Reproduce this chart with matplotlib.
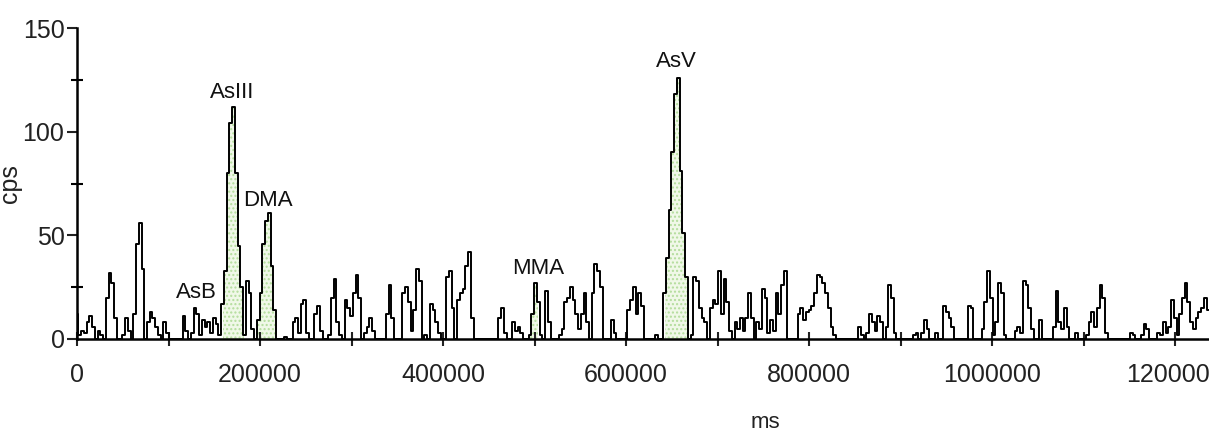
import numpy as np
import matplotlib
matplotlib.use("Agg")
import matplotlib.pyplot as plt
from matplotlib.ticker import MultipleLocator, FixedLocator, FixedFormatter

# ---------------- data ----------------
sample_interval_ms = 3000
cps = [
    12, 2, 4, 3, 8, 11, 6, 0, 4, 2,
    0, 20, 32, 27, 10, 0, 0, 2, 10, 4,
    0, 12, 46, 56, 34, 0, 8, 13, 10, 6,
    2, 0, 8, 3, 0, 0, 0, 0, 0, 11,
    4, 0, 3, 15, 12, 2, 9, 6, 8, 3,
    10, 7, 2, 17, 33, 80, 104, 112, 80, 45,
    25, 2, 28, 22, 5, 0, 9, 22, 46, 57,
    61, 35, 14, 0, 0, 0, 1, 0, 0, 8,
    10, 3, 17, 19, 3, 0, 0, 12, 16, 4,
    0, 0, 2, 20, 29, 8, 2, 0, 19, 15,
    11, 22, 31, 20, 0, 3, 6, 10, 4, 0,
    0, 0, 0, 12, 26, 10, 0, 0, 0, 22,
    25, 18, 4, 14, 34, 28, 0, 2, 0, 17,
    14, 8, 3, 0, 0, 30, 33, 15, 0, 19,
    22, 24, 35, 42, 10, 0, 0, 0, 0, 0,
    0, 0, 0, 0, 10, 15, 3, 0, 0, 8,
    4, 6, 3, 0, 0, 2, 12, 27, 18, 2,
    0, 23, 8, 0, 0, 0, 2, 5, 18, 20,
    25, 19, 12, 5, 12, 22, 8, 0, 22, 36,
    33, 25, 0, 0, 0, 9, 3, 0, 0, 0,
    0, 14, 19, 25, 12, 22, 16, 0, 0, 0,
    0, 2, 0, 0, 22, 39, 62, 90, 118, 126,
    81, 51, 30, 0, 2, 30, 28, 15, 10, 8,
    0, 15, 19, 17, 33, 12, 29, 18, 4, 0,
    8, 5, 10, 4, 10, 22, 10, 0, 8, 5,
    24, 20, 3, 9, 4, 22, 12, 26, 33, 0,
    0, 0, 0, 12, 15, 9, 13, 14, 16, 22,
    31, 30, 27, 22, 15, 6, 2, 0, 0, 0,
    0, 0, 0, 0, 0, 6, 2, 0, 3, 12,
    8, 4, 11, 8, 0, 6, 26, 20, 3, 0,
    0, 0, 0, 0, 0, 2, 3, 0, 3, 9,
    5, 0, 0, 3, 0, 0, 16, 13, 10, 6,
    0, 0, 0, 0, 0, 16, 15, 0, 0, 0,
    5, 18, 33, 20, 2, 8, 27, 22, 2, 0,
    0, 0, 4, 6, 3, 28, 26, 15, 5, 0,
    0, 9, 0, 0, 0, 0, 6, 23, 8, 5,
    15, 6, 0, 0, 3, 0, 0, 0, 2, 8,
    13, 6, 15, 26, 20, 3, 0, 0, 0, 0,
    0, 0, 0, 0, 3, 2, 0, 0, 2, 7,
    5, 0, 0, 0, 3, 2, 8, 3, 6, 19,
    10, 2, 12, 20, 27, 18, 8, 5, 10, 13, 15, 20, 14,
]
peak_names = ["AsB", "AsIII", "DMA", "MMA", "AsV"]
peak_label_ms = [130000, 169400, 208700, 503800, 654600]
peak_label_cps = [22.5, 119, 67, 34, 134]
integration_windows_ms = [(157000, 183000), (195000, 216000), (494000, 504000), (640000, 669000)]
x_tick_values = [0, 100000, 200000, 300000, 400000, 500000, 600000,
                 700000, 800000, 900000, 1000000, 1100000, 1200000]
x_tick_labels = ["0", "", "200000", "", "400000", "", "600000",
                 "", "800000", "", "1000000", "", "1200000"]
y_tick_values = [0, 50, 100, 150]

# ---------------- plot ----------------
narrow = ["Liberation Sans Narrow", "Liberation Sans", "DejaVu Sans"]
plt.rcParams["font.family"] = narrow
plt.rcParams["hatch.linewidth"] = 1.0

t = np.arange(len(cps)) * sample_interval_ms
y = np.array(cps, dtype=float)

fig = plt.figure(figsize=(12.09, 4.32), dpi=100)
ax = fig.add_axes([77 / 1209, 93 / 432, 1132 / 1209, 311 / 432])

for start, end in integration_windows_ms:
    m = (t >= start) & (t <= end)
    ax.fill_between(t, 0, y, where=m, step="mid", facecolor="#f0f8e8",
                    edgecolor="#b3dd9c", hatch="....", linewidth=0, zorder=1)

ax.plot(t, y, drawstyle="steps-mid", color="black", linewidth=1.4, zorder=3)

for name, xm, yc in zip(peak_names, peak_label_ms, peak_label_cps):
    ax.text(xm, yc, name, ha="center", va="center", fontsize=16, color="#111111")

ax.set_xlim(0, 1237000)
ax.set_ylim(0, 150)

ax.spines["top"].set_visible(False)
ax.spines["right"].set_visible(False)
ax.spines["left"].set_linewidth(1.8)
ax.spines["bottom"].set_linewidth(1.8)

ax.xaxis.set_major_locator(FixedLocator(x_tick_values))
ax.xaxis.set_major_formatter(FixedFormatter(x_tick_labels))
ax.yaxis.set_major_locator(FixedLocator(y_tick_values))
ax.yaxis.set_minor_locator(MultipleLocator(25))

ax.tick_params(axis="x", which="major", direction="inout", length=10, width=1.5,
               pad=12, labelsize=18, colors="#222222")
ax.tick_params(axis="y", which="major", direction="out", length=7, width=1.5,
               pad=2, labelsize=18, colors="#222222")
ax.tick_params(axis="y", which="minor", direction="inout", length=8, width=1.5)

ax.set_xlabel("ms", fontsize=16, color="#222222")
ax.xaxis.set_label_coords(0.608, -0.235)
ax.set_ylabel("cps", fontsize=18, color="#222222", family=["Liberation Sans", "DejaVu Sans"])
ax.yaxis.set_label_coords(-0.0486, 0.5)

fig.savefig("out.png", dpi=100)
